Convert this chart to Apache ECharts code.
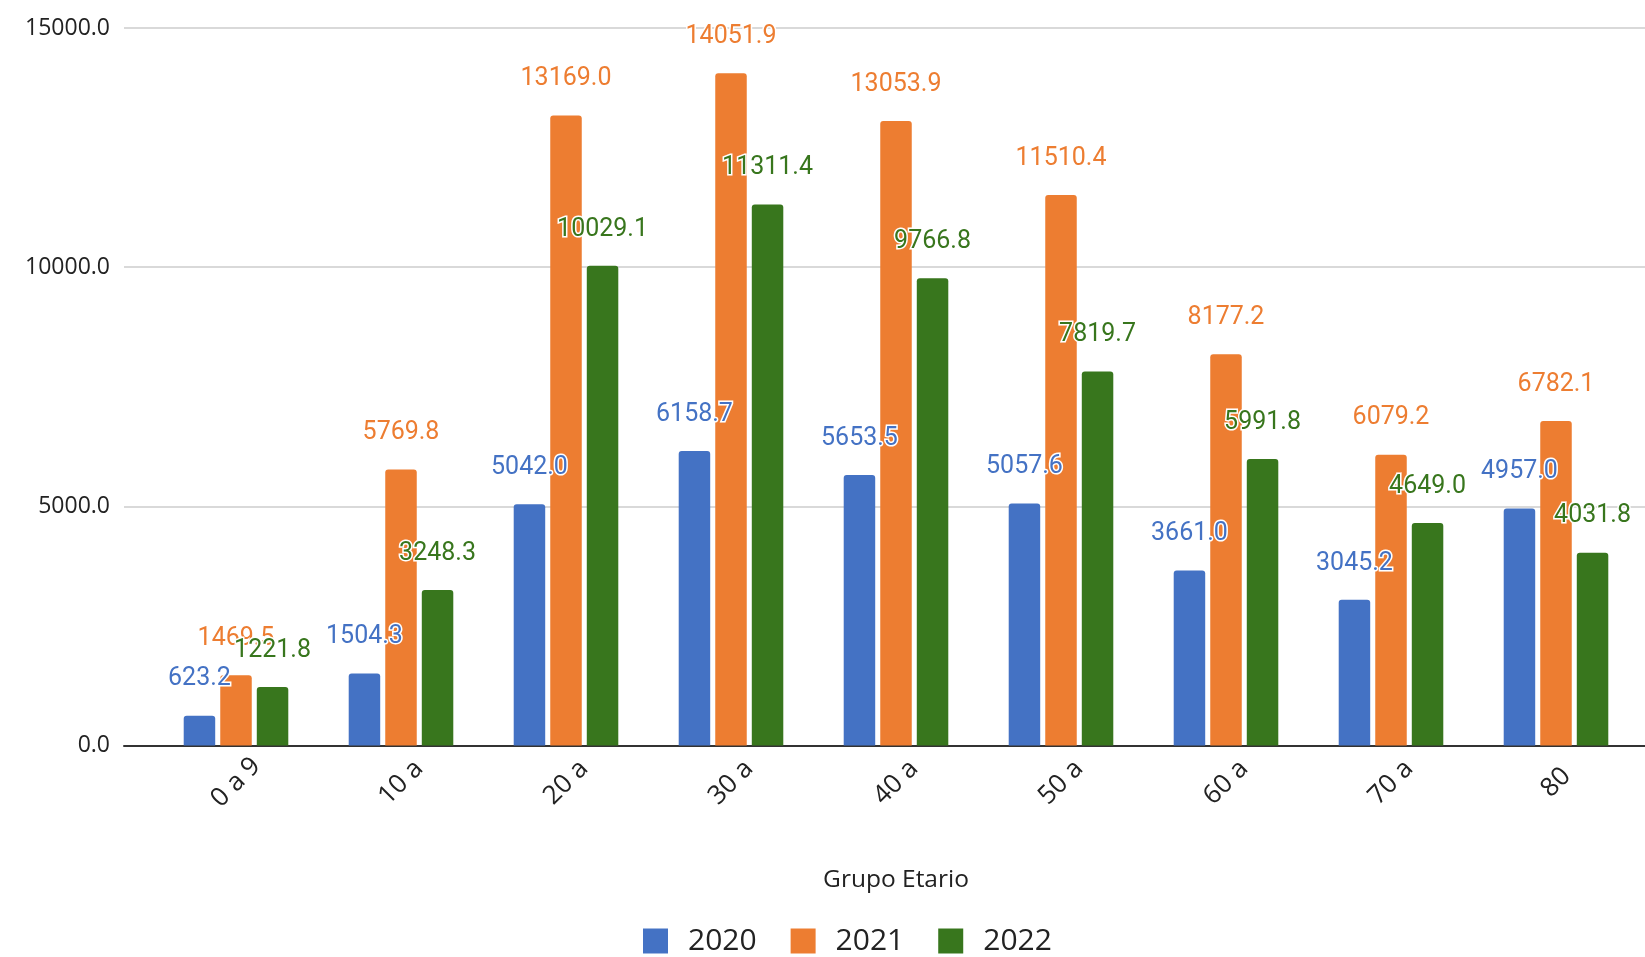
<!DOCTYPE html>
<html>
<head>
<meta charset="utf-8">
<script src="https://cdn.jsdelivr.net/npm/echarts@6/dist/echarts.min.js"></script>
<style>
html,body{margin:0;padding:0;background:#fff;}
#chart{width:1645px;height:957px;}
</style>
</head>
<body>
<div id="chart"></div>
<script>
const categories = ['0 a 9', '10 a', '20 a', '30 a', '40 a', '50 a', '60 a', '70 a', '80'];
const seriesNames = ['2020', '2021', '2022'];
const values2020 = [623.2, 1504.3, 5042.0, 6158.7, 5653.5, 5057.6, 3661.0, 3045.2, 4957.0];
const values2021 = [1469.5, 5769.8, 13169.0, 14051.9, 13053.9, 11510.4, 8177.2, 6079.2, 6782.1];
const values2022 = [1221.8, 3248.3, 10029.1, 11311.4, 9766.8, 7819.7, 5991.8, 4649.0, 4031.8];
const yTicks = [0, 5000, 10000, 15000];
const colors = ['#4472C4', '#ED7D31', '#38761D'];

const chart = echarts.init(document.getElementById('chart'), null, {renderer: 'canvas'});
const allValues = [values2020, values2021, values2022];

function barSeries(i) {
  return {
    name: seriesNames[i],
    type: 'bar',
    xAxisIndex: 1,
    yAxisIndex: 1,
    data: allValues[i],
    barWidth: 31.5,
    barGap: '16%',
    itemStyle: {color: colors[i], borderRadius: [3, 3, 0, 0]},
    label: {
      show: true,
      position: 'top',
      distance: 24,
      color: colors[i],
      fontFamily: 'Roboto',
      fontSize: 25,
      textBorderColor: '#fff',
      textBorderWidth: 3,
      formatter: p => p.value.toFixed(1)
    },
    z: 2
  };
}

const option = {
  animation: false,
  backgroundColor: '#fff',
  grid: [
    {left: 124, right: 0, top: 28, bottom: 211.5},
    {left: 153.5, right: 6.5, top: 28, bottom: 211.5}
  ],
  legend: {
    data: seriesNames,
    left: 638,
    top: 921,
    itemWidth: 25,
    itemHeight: 25,
    itemGap: 34,
    icon: 'rect',
    textStyle: {fontFamily: 'Open Sans', fontSize: 30, color: '#222', padding: [0, 0, 0, 15]}
  },
  xAxis: [
    {
      gridIndex: 0, type: 'value', min: 0, max: 1,
      axisLine: {show: true, onZero: false, lineStyle: {color: '#333', width: 2}},
      axisTick: {show: false}, axisLabel: {show: false}, splitLine: {show: false}
    },
    {
      gridIndex: 1, type: 'category', data: categories,
      axisLine: {show: false}, axisTick: {show: false},
      axisLabel: {rotate: 45, margin: 37, align: 'center', verticalAlign: 'middle',
                  fontFamily: 'Open Sans', fontSize: 26, color: '#222'},
      name: 'Grupo Etario', nameLocation: 'middle', nameGap: 122,
      nameTextStyle: {fontFamily: 'Open Sans', fontSize: 24.5, color: '#222'}
    }
  ],
  yAxis: [
    {
      gridIndex: 0, type: 'value', min: yTicks[0], max: yTicks[yTicks.length - 1], interval: yTicks[1] - yTicks[0],
      axisLine: {show: false}, axisTick: {show: false},
      axisLabel: {margin: 14, fontFamily: 'Open Sans', fontSize: 23, color: '#222', formatter: v => v.toFixed(1)},
      splitLine: {lineStyle: {color: '#cccccc', width: 1.5}}
    },
    {
      gridIndex: 1, type: 'value', min: yTicks[0], max: yTicks[yTicks.length - 1], interval: yTicks[1] - yTicks[0],
      show: false, splitLine: {show: false}
    }
  ],
  series: [barSeries(0), barSeries(1), barSeries(2)]
};
chart.setOption(option);
</script>
</body>
</html>
